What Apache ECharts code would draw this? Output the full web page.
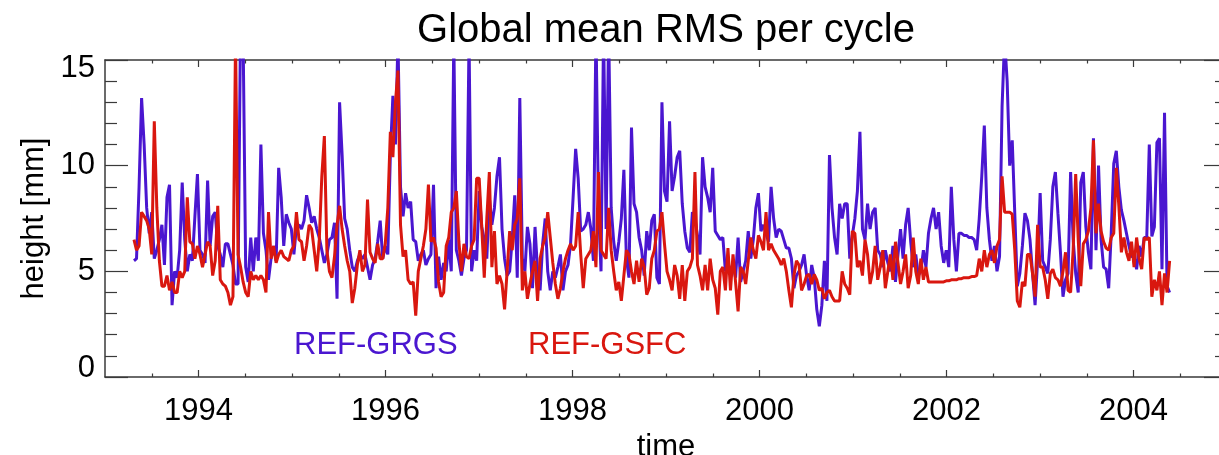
<!DOCTYPE html>
<html>
<head>
<meta charset="utf-8">
<title>Global mean RMS per cycle</title>
<script src="https://cdn.jsdelivr.net/npm/echarts@6/dist/echarts.min.js"></script>
<style>
  html, body { margin: 0; padding: 0; background: #ffffff; overflow: hidden; }
  #chart { width: 1219px; height: 455px; }
</style>
</head>
<body>
<div id="chart"></div>
<script>
// Mean RMS of sea-surface height differences, one value per 10-day altimeter cycle.
const firstCycleYear = 1993.31;   // decimal year of the first plotted cycle
const cycleDays = 9.9156;         // repeat period of one cycle

// REF-GRGS orbit solution [mm]
const grgs = [
  5.5, 5.6, 9.0, 13.2, 11.0, 8.0, 6.8, 7.8, 5.6, 6.0,
  6.5, 7.2, 5.3, 8.5, 9.1, 3.4, 5.0, 4.7, 6.0, 9.2,
  6.5, 5.0, 5.8, 5.5, 7.6, 9.6, 6.0, 5.8, 5.4, 9.3,
  6.2, 7.6, 7.8, 6.2, 5.8, 5.2, 6.3, 6.3, 5.8, 5.3,
  4.4, 4.4, 17.0, 16.0, 5.2, 4.5, 6.6, 5.0, 6.6, 5.5,
  11.0, 6.8, 6.0, 4.6, 5.6, 6.2, 5.5, 9.9, 8.5, 6.2,
  7.7, 7.3, 7.0, 5.8, 7.1, 7.2, 7.0, 7.4, 8.6, 8.0,
  7.3, 7.6, 7.0, 6.6, 6.0, 5.4, 5.8, 6.5, 6.6, 7.3,
  3.7, 13.0, 10.5, 7.5, 7.0, 6.0, 5.2, 5.0, 5.5, 5.8,
  5.6, 5.8, 5.2, 4.6, 5.3, 5.6, 6.4, 7.4, 5.6, 6.2,
  5.8, 10.5, 13.3, 11.0, 16.0, 9.0, 7.6, 8.7, 8.0, 8.3,
  6.5, 6.4, 5.5, 5.8, 6.0, 5.3, 5.6, 5.8, 9.1, 4.2,
  5.7, 4.6, 5.4, 5.0, 6.5, 5.0, 16.0, 6.0, 5.5, 4.8,
  5.6, 6.0, 16.0, 5.0, 6.0, 5.5, 8.8, 7.1, 6.5, 5.6,
  8.5, 7.2, 8.0, 9.5, 10.4, 7.0, 5.6, 4.8, 5.0, 6.5,
  8.6, 4.7, 13.2, 5.6, 5.0, 7.1, 6.3, 4.2, 7.1, 5.0,
  4.1, 6.3, 7.5, 5.0, 4.1, 5.0, 4.7, 5.2, 5.8, 4.1,
  5.0, 5.3, 6.3, 8.5, 10.8, 9.4, 6.9, 7.0, 7.2, 7.8,
  7.0, 5.5, 16.5, 8.0, 5.0, 16.5, 7.0, 16.5, 8.0, 6.4,
  5.5, 6.4, 7.5, 9.8, 5.6, 4.7, 11.8, 8.2, 7.8, 6.6,
  6.0, 4.8, 6.9, 6.0, 7.4, 7.7, 4.7, 4.4, 13.0, 8.8,
  8.3, 12.1, 8.8, 9.5, 10.4, 10.7, 8.2, 6.9, 6.1, 5.9,
  7.8, 7.5, 6.7, 5.8, 10.4, 9.0, 8.5, 7.8, 9.9, 6.9,
  6.7, 6.5, 6.6, 5.0, 5.3, 5.0, 5.4, 4.7, 6.6, 4.5,
  5.0, 5.5, 6.9, 5.6, 6.5, 8.0, 8.7, 6.9, 7.2, 6.8,
  6.4, 9.0, 7.5, 6.6, 7.0, 6.9, 6.5, 6.1, 6.1, 5.6,
  4.2, 4.8, 5.0, 5.3, 5.8, 4.8, 4.1, 5.3, 4.7, 3.2,
  2.4, 3.4, 5.5, 3.6, 10.5, 8.0, 6.6, 5.8, 8.2, 7.5,
  8.2, 8.2, 5.6, 6.7, 7.5, 8.8, 11.6, 7.0, 6.5, 8.2,
  7.0, 7.8, 8.0, 6.0, 5.8, 5.2, 6.0, 5.4, 5.0, 6.2,
  4.5, 5.8, 7.0, 5.6, 7.2, 8.0, 6.4, 5.2, 5.8, 4.8,
  5.0, 6.0, 5.2, 6.8, 7.5, 8.0, 7.0, 7.8, 6.2, 5.4,
  6.0, 5.2, 9.0, 6.5, 5.0, 6.8, 6.8, 6.7, 6.7, 6.6,
  6.6, 6.5, 6.0, 7.5, 9.5, 11.9, 8.0, 6.5, 5.5, 6.2,
  5.0, 5.7, 12.8, 16.0, 14.0, 10.0, 11.2, 7.75, 4.3, 4.9,
  6.2, 7.75, 7.4, 6.5, 4.9, 3.4, 5.5, 8.7, 5.5, 5.2,
  4.9, 6.5, 9.0, 9.7, 7.75, 5.9, 3.8, 4.6, 4.9, 9.7,
  6.5, 4.9, 4.0, 9.2, 9.7, 7.1, 5.9, 5.1, 11.3, 6.0,
  10.0, 6.5, 5.2, 5.1, 4.2, 6.8, 10.1, 10.7, 9.0, 7.9,
  7.4, 6.8, 6.2, 5.7, 5.7, 5.1, 6.2, 5.7, 6.6, 6.6,
  11.0, 6.65, 7.1, 11.1, 11.3, 5.1, 12.5, 4.3, 4.0
];

// REF-GSFC orbit solution [mm]
const gsfc = [
  6.5, 6.0, 6.2, 7.8, 7.6, 7.4, 7.0, 5.8, 12.1, 8.0,
  5.5, 4.3, 4.3, 4.8, 4.1, 4.5, 4.0, 4.0, 5.0, 4.7,
  5.0, 8.5, 6.4, 6.3, 5.6, 6.2, 5.8, 5.2, 5.8, 6.4,
  6.2, 4.8, 5.5, 8.1, 4.6, 4.4, 4.3, 4.0, 3.4, 3.8,
  16.0, 5.8, 5.2, 4.5, 4.0, 3.8, 5.0, 4.6, 4.8, 4.6,
  4.8, 4.6, 4.0, 7.8, 5.6, 6.2, 5.4, 5.8, 6.0, 5.7,
  5.6, 5.5, 6.0, 6.2, 7.8, 6.5, 6.4, 5.5, 6.2, 7.2,
  7.0, 6.0, 5.0, 6.5, 9.5, 11.4, 6.0, 5.0, 4.7, 5.7,
  7.2, 8.1, 7.0, 6.2, 5.5, 5.0, 3.5, 4.2, 5.3, 6.0,
  5.0, 5.3, 8.4, 5.9, 5.6, 5.4, 6.3, 5.6, 5.6, 6.3,
  8.0, 11.6, 10.4, 13.0, 14.5, 7.2, 5.7, 6.0, 4.6, 4.4,
  4.5, 2.9, 5.0, 5.6, 6.2, 7.0, 9.1, 6.4, 6.6, 6.1,
  4.5, 3.8, 4.0, 6.2, 6.6, 7.8, 8.0, 8.8, 6.4, 5.0,
  6.3, 5.7, 5.6, 6.2, 6.5, 9.4, 9.4, 7.1, 4.7, 7.5,
  9.7, 5.2, 6.9, 4.4, 4.8, 4.4, 3.2, 5.0, 6.9, 6.0,
  7.2, 7.5, 9.4, 4.1, 5.0, 3.7, 4.4, 5.0, 5.5, 3.6,
  5.6, 6.2, 6.6, 7.8, 6.6, 5.4, 4.4, 3.7, 4.2, 5.0,
  5.6, 6.0, 6.3, 6.0, 6.2, 7.8, 5.8, 4.2, 5.6, 5.8,
  6.0, 6.9, 5.2, 9.7, 6.0, 5.8, 5.6, 8.0, 6.0, 5.0,
  4.1, 4.5, 3.6, 4.8, 6.0, 5.8, 5.0, 4.4, 5.5, 4.5,
  5.6, 5.2, 3.9, 4.2, 5.6, 6.0, 6.9, 7.0, 7.8, 6.3,
  5.0, 4.6, 4.1, 5.3, 4.8, 3.7, 5.3, 3.6, 5.0, 5.2,
  5.6, 9.7, 5.3, 4.8, 4.1, 5.3, 4.1, 5.6, 4.6, 4.2,
  2.95, 5.0, 5.2, 4.1, 6.1, 4.1, 5.8, 4.5, 3.1, 5.2,
  5.0, 4.4, 5.5, 6.6, 6.0, 5.6, 6.7, 6.4, 6.0, 7.8,
  6.0, 6.3, 6.0, 5.8, 5.6, 5.3, 5.6, 5.0, 4.1, 3.3,
  4.8, 5.5, 5.3, 4.1, 4.4, 4.8, 4.85, 4.4, 4.85, 4.6,
  4.1, 4.2, 3.7, 4.0, 4.1, 3.8, 3.6, 3.6, 3.6, 5.0,
  4.4, 4.2, 3.9, 6.9, 6.8, 5.2, 5.5, 4.8, 6.5, 5.8,
  4.4, 5.0, 6.2, 4.6, 5.2, 6.0, 4.2, 5.0, 5.8, 4.6,
  6.4, 5.4, 4.4, 5.0, 5.8, 4.2, 4.8, 6.6, 5.0, 4.4,
  5.6, 4.6, 5.2, 4.5, 4.5, 4.5, 4.5, 4.5, 4.5, 4.5,
  4.55, 4.55, 4.6, 4.6, 4.6, 4.65, 4.65, 4.7, 4.7, 4.7,
  4.75, 4.75, 4.8, 5.6, 5.0, 6.0, 5.2, 5.8, 6.0, 5.4,
  6.2, 6.5, 9.5, 7.8, 7.8, 7.8, 7.7, 6.0, 3.6, 3.3,
  4.5, 4.3, 5.8, 5.8, 4.9, 3.8, 7.2, 5.2, 5.2, 4.6,
  3.7, 4.9, 5.1, 4.7, 4.6, 4.3, 5.0, 5.9, 4.1, 4.0,
  6.0, 9.6, 6.5, 4.3, 6.3, 6.5, 6.9, 8.0, 11.2, 6.8,
  8.2, 6.9, 6.4, 6.1, 6.0, 6.6, 6.8, 9.9, 8.1, 5.9,
  6.6, 5.9, 5.5, 6.4, 5.2, 6.6, 5.6, 5.1, 6.6, 6.5,
  6.6, 3.8, 4.6, 4.1, 5.0, 3.4, 4.9, 4.0, 5.5
];

// Axis ticks
const majorYears = [1994, 1996, 1998, 2000, 2002, 2004];
const minorYears = [1993.5, 1994.5, 1995, 1995.5, 1996.5, 1997, 1997.5, 1998.5,
                    1999, 1999.5, 2000.5, 2001, 2001.5, 2002.5, 2003, 2003.5, 2004.5];

const seriesNames = ['REF-GRGS', 'REF-GSFC'];
const seriesColors = ['#4a16d0', '#d9170f'];

const FONT = '"Liberation Sans", Arial, Helvetica, sans-serif';
const AXIS_COLOR = '#3a3a3a';

const cycleYears = grgs.map((_, i) => firstCycleYear + i * cycleDays / 365.25);

function xAxisBase(position, ticks, tickLen, withLine) {
  return {
    type: 'value', min: 1993, max: 2005, position: position,
    axisLine: { show: withLine, onZero: false, lineStyle: { color: AXIS_COLOR, width: 1.5 } },
    axisTick: { show: true, inside: true, length: tickLen, customValues: ticks,
                lineStyle: { color: AXIS_COLOR, width: 1.2 } },
    axisLabel: { show: false },
    splitLine: { show: false }
  };
}

const xMain = xAxisBase('bottom', majorYears, 7, true);
xMain.axisLabel = { show: true, customValues: majorYears, fontSize: 31, color: '#000',
                    fontFamily: FONT, margin: 19, formatter: (v) => String(v) };
xMain.name = 'time';
xMain.nameLocation = 'middle';
xMain.nameGap = 44;
xMain.nameTextStyle = { fontSize: 31, color: '#000', fontFamily: FONT };

function yAxisBase(position) {
  return {
    type: 'value', min: 0, max: 15, interval: 5, position: position,
    axisLine: { show: true, onZero: false, lineStyle: { color: AXIS_COLOR, width: 1.5 } },
    axisTick: { show: true, inside: true, length: 23, lineStyle: { color: AXIS_COLOR, width: 1.2 } },
    minorTick: { show: true, splitNumber: 5, length: 12, lineStyle: { color: AXIS_COLOR, width: 1.2 } },
    axisLabel: { show: false },
    splitLine: { show: false },
    minorSplitLine: { show: false }
  };
}

const yMain = yAxisBase('left');
yMain.axisLabel = {
  show: true, fontSize: 31, color: '#000', fontFamily: FONT, margin: 10,
  formatter: function (v) {
    if (v === 15) return '{hi|15}';
    if (v === 0) return '{lo|0}';
    return String(v);
  },
  rich: {
    hi: { fontSize: 31, fontFamily: FONT, color: '#000', padding: [16, 0, 0, 0] },
    lo: { fontSize: 31, fontFamily: FONT, color: '#000', padding: [0, 0, 18, 0] }
  }
};
yMain.name = 'height [mm]';
yMain.nameLocation = 'middle';
yMain.nameGap = 55;
yMain.nameTextStyle = { fontSize: 31, color: '#000', fontFamily: FONT };

const chart = echarts.init(document.getElementById('chart'));

chart.setOption({
  animation: false,
  backgroundColor: '#ffffff',
  grid: { left: 105, top: 60, width: 1122, height: 317, containLabel: false, outerBoundsMode: 'none' },
  xAxis: [
    xMain,
    xAxisBase('top', majorYears, 7, true),
    xAxisBase('bottom', minorYears, 3.5, false),
    xAxisBase('top', minorYears, 3.5, false)
  ],
  yAxis: [yMain, yAxisBase('right')],
  graphic: [
    {
      type: 'text', x: 666, y: 31, silent: true,
      style: { text: 'Global mean RMS per cycle', fontSize: 40, fontFamily: FONT, fill: '#000',
               align: 'center', verticalAlign: 'middle', textAlign: 'center', textVerticalAlign: 'middle' }
    },
    {
      type: 'text', x: 294, y: 345, silent: true, z: 10,
      style: { text: seriesNames[0], fontSize: 31, fontFamily: FONT, fill: seriesColors[0],
               align: 'left', verticalAlign: 'middle', textAlign: 'left', textVerticalAlign: 'middle' }
    },
    {
      type: 'text', x: 528, y: 345, silent: true, z: 10,
      style: { text: seriesNames[1], fontSize: 31, fontFamily: FONT, fill: seriesColors[1],
               align: 'left', verticalAlign: 'middle', textAlign: 'left', textVerticalAlign: 'middle' }
    }
  ],
  series: [
    {
      name: seriesNames[0], type: 'line', xAxisIndex: 0, yAxisIndex: 0,
      data: cycleYears.map((t, i) => [t, grgs[i]]),
      showSymbol: false, symbol: 'none', clip: true,
      lineStyle: { color: seriesColors[0], width: 3 }, z: 2
    },
    {
      name: seriesNames[1], type: 'line', xAxisIndex: 0, yAxisIndex: 0,
      data: cycleYears.map((t, i) => [t, gsfc[i]]),
      showSymbol: false, symbol: 'none', clip: true,
      lineStyle: { color: seriesColors[1], width: 3 }, z: 3
    }
  ]
});
</script>
</body>
</html>
